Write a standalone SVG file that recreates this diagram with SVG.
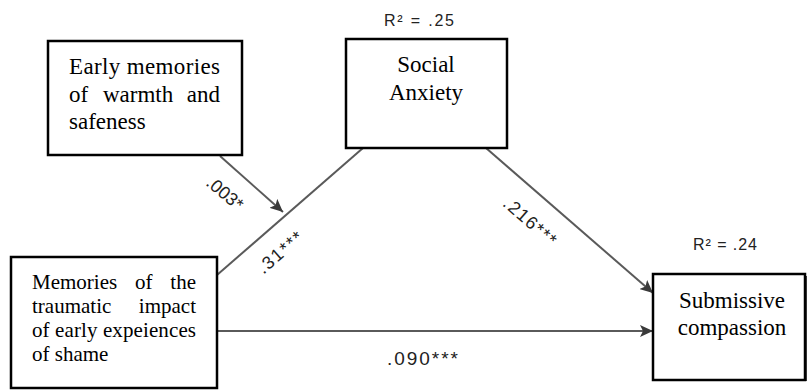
<svg xmlns="http://www.w3.org/2000/svg" width="807" height="390" viewBox="0 0 807 390">
<style>
.box{fill:#fff;stroke:#000;stroke-width:2.5}
.bt{font-family:"Liberation Serif","Times New Roman",serif;fill:#000}
.lab{font-family:"Liberation Sans",Arial,sans-serif;fill:#222}
.edge{stroke:#5a5a5a;stroke-width:2;fill:none}
</style>
<defs>
<marker id="ah" markerUnits="userSpaceOnUse" markerWidth="14" markerHeight="12" refX="13" refY="6" orient="auto">
<path d="M0,0 L13,6 L0,12 L3,6 Z" fill="#3a3a3a"/>
</marker>
</defs>
<rect width="807" height="390" fill="#fff"/>
<g id="connectors">
<line class="edge" x1="217" y1="275" x2="363" y2="148"/>
<line class="edge" x1="220" y1="156" x2="283" y2="212" marker-end="url(#ah)"/>
<line class="edge" x1="486" y1="148" x2="653" y2="293" marker-end="url(#ah)"/>
<line class="edge" x1="217" y1="331" x2="653" y2="331" marker-end="url(#ah)"/>
<text class="lab" font-size="18" text-anchor="middle" transform="translate(221,198) rotate(40)">.003*</text>
<text class="lab" font-size="18" text-anchor="middle" textLength="54" lengthAdjust="spacing" transform="translate(284,257) rotate(-41)">.31***</text>
<text class="lab" font-size="18" text-anchor="middle" textLength="64" lengthAdjust="spacing" transform="translate(526,226) rotate(41)">.216***</text>
<text class="lab" font-size="19" x="387" y="365" textLength="71" lengthAdjust="spacing">.090***</text>
</g>
<g id="early">
<rect class="box" x="48" y="41" width="194" height="114"/>
<text class="bt" font-size="23" x="69" y="74" textLength="151" lengthAdjust="spacing">Early memories</text>
<text class="bt" font-size="23" x="69" y="102">of</text>
<text class="bt" font-size="23" x="103" y="102">warmth</text>
<text class="bt" font-size="23" x="220" y="102" text-anchor="end">and</text>
<text class="bt" font-size="23" x="69" y="129">safeness</text>
</g>
<g id="social">
<text class="lab" font-size="16" x="384" y="26" textLength="70" lengthAdjust="spacing">R² = .25</text>
<rect class="box" x="346" y="39" width="161" height="109"/>
<text class="bt" font-size="23" x="426" y="72" text-anchor="middle">Social</text>
<text class="bt" font-size="23" x="426" y="100" text-anchor="middle">Anxiety</text>
</g>
<g id="memories">
<rect class="box" x="11" y="257" width="206" height="131"/>
<text class="bt" font-size="21" x="32" y="289">Memories</text>
<text class="bt" font-size="21" x="135" y="289">of</text>
<text class="bt" font-size="21" x="196" y="289" text-anchor="end">the</text>
<text class="bt" font-size="21" x="32" y="313">traumatic</text>
<text class="bt" font-size="21" x="196" y="313" text-anchor="end">impact</text>
<text class="bt" font-size="21" x="32" y="337" textLength="164" lengthAdjust="spacing">of early expeiences</text>
<text class="bt" font-size="21" x="32" y="361">of shame</text>
</g>
<g id="submissive">
<text class="lab" font-size="16" x="693" y="250" textLength="64" lengthAdjust="spacing">R² = .24</text>
<rect x="655" y="276" width="152" height="105" fill="#444"/>
<rect class="box" x="653" y="274" width="152" height="106"/>
<text class="bt" font-size="23" x="732" y="308" text-anchor="middle">Submissive</text>
<text class="bt" font-size="23" x="732" y="335" text-anchor="middle">compassion</text>
</g>
</svg>
